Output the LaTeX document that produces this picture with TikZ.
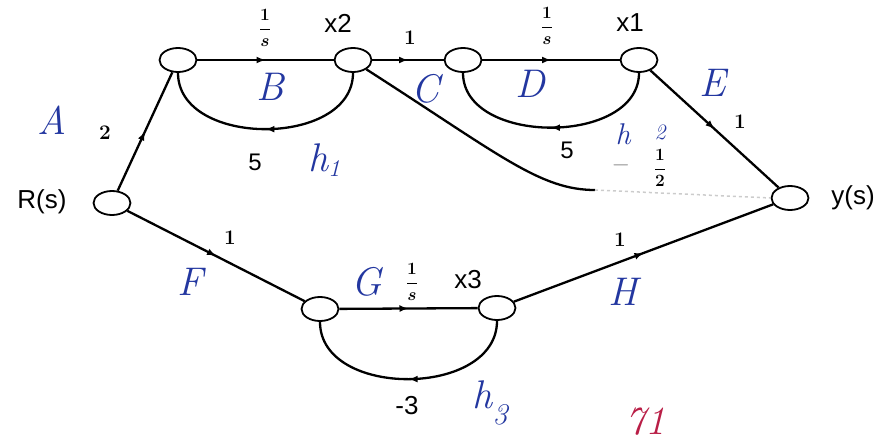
\documentclass[tikz,border=0pt]{standalone}
\usepackage{fontspec}
\newfontfamily\printfont{Liberation Sans}
\usetikzlibrary{arrows.meta, shapes.geometric, decorations.markings}
\definecolor{ink}{RGB}{35,55,160}
\definecolor{redink}{RGB}{185,30,70}

\begin{document}
\begin{tikzpicture}[x=1pt,y=-1pt,
  sfnode/.style={draw,ellipse,line width=1.8pt,minimum width=37pt,minimum height=24pt,inner sep=0pt},
  branch/.style={line width=2.3pt,postaction={decorate},
    decoration={markings,mark=at position 0.5 with {\arrow{Latex[length=9pt,width=7pt]}}}},
  gain/.style={font=\boldmath\fontsize{20}{22}\selectfont},
  fracgain/.style={font=\boldmath\fontsize{19}{21}\selectfont},
  plain/.style={font=\printfont\fontsize{26}{28}\selectfont},
  hand/.style={text=ink,font=\itshape\fontsize{40}{42}\selectfont}]
\useasboundingbox (0,0) rectangle (885,436);

% signal nodes
\node[sfnode] (R)  at (112,203) {};
\node[sfnode] (n1) at (178,60) {};
\node[sfnode] (x2) at (353,60) {};
\node[sfnode] (n3) at (463,60) {};
\node[sfnode] (x1) at (639,60) {};
\node[sfnode] (Y)  at (790,198) {};
\node[sfnode] (n6) at (320,309) {};
\node[sfnode] (x3) at (497,308) {};

% forward branches
\draw[branch] (R) -- (n1);
\draw[branch] (n1) -- (x2);
\draw[branch] (x2) -- (n3);
\draw[branch] (n3) -- (x1);
\draw[branch] (x1) -- (Y);
\draw[branch] (R) -- (n6);
\draw[branch] (n6) -- (x3);
\draw[branch] (x3) -- (Y);

% feedback loops
\draw[branch] (x2.south) .. controls +(0,75) and +(0,75) .. (n1.south);
\draw[branch] (x1.south) .. controls +(0,73) and +(0,73) .. (n3.south);
\draw[branch] (x3.south) .. controls +(0,77) and +(0,77) .. (n6.south);

% faded branch x2 -> y(s)
\draw[line width=2.3pt] (x2.-35) .. controls (500,155) and (540,190) .. (595,190)
  coordinate (fade);
\draw[black!20,line width=1.5pt,dashed] (fade) -- (Y.west);

% printed labels
\node[plain] (Rl)  at (42,202) {R(s)};
\node[plain] (Yl)  at (853,198) {y(s)};
\node[plain] (x2l) at (338,23) {x2};
\node[plain] (x1l) at (630,23) {x1};
\node[plain] (x3l) at (468,280) {x3};
\node[plain,font=\printfont\fontsize{24}{26}\selectfont] (f1) at (255,162) {5};
\node[plain,font=\printfont\fontsize{24}{26}\selectfont] (f2) at (567,150) {5};
\node[plain] (f3)  at (407,406) {-3};

\foreach \x/\y/\n in {265/28/a, 547/26/b, 412/282/c} {
  \node[fracgain] (s\n) at (\x,\y) {$\displaystyle\frac{1}{s}$};
}
\foreach \x/\y/\n in {410/38/a, 740/122/b, 230/238/c, 620/240/d} {
  \node[gain] (one\n) at (\x,\y) {$1$};
}
\node[gain] (two) at (105,133) {$2$};
\node[gain,text=black!35,inner sep=0pt] (minus) at (621,165) {$-$};
\node[fracgain] (half) at (660,168) {$\displaystyle\frac{1}{2}$};

% handwritten labels
\node[hand] (A) at (52,120) {A};
\node[hand] (B) at (270,87) {B};
\node[hand] (C) at (425,89) {C};
\node[hand] (D) at (530,84) {D};
\node[hand] (E) at (713,83) {E};
\node[hand] (F) at (190,282) {F};
\node[hand] (G) at (367,282) {G};
\node[hand] (H) at (623,292) {H};
\node[hand] (h1) at (324,160) {h\raisebox{-5pt}{\fontsize{24}{24}\selectfont 1}};
\node[hand,font=\itshape\fontsize{30}{32}\selectfont,inner sep=0pt] (h2) at (623,134) {h};
\node[hand,font=\itshape\fontsize{22}{24}\selectfont,inner sep=0pt] (h2n) at (660,132) {2};
\node[hand] (h3) at (490,403) {h\raisebox{-16pt}{\fontsize{30}{30}\selectfont 3}};
\node[hand,text=redink,anchor=north] (mark) at (645,404) {71};
\end{tikzpicture}
\end{document}
